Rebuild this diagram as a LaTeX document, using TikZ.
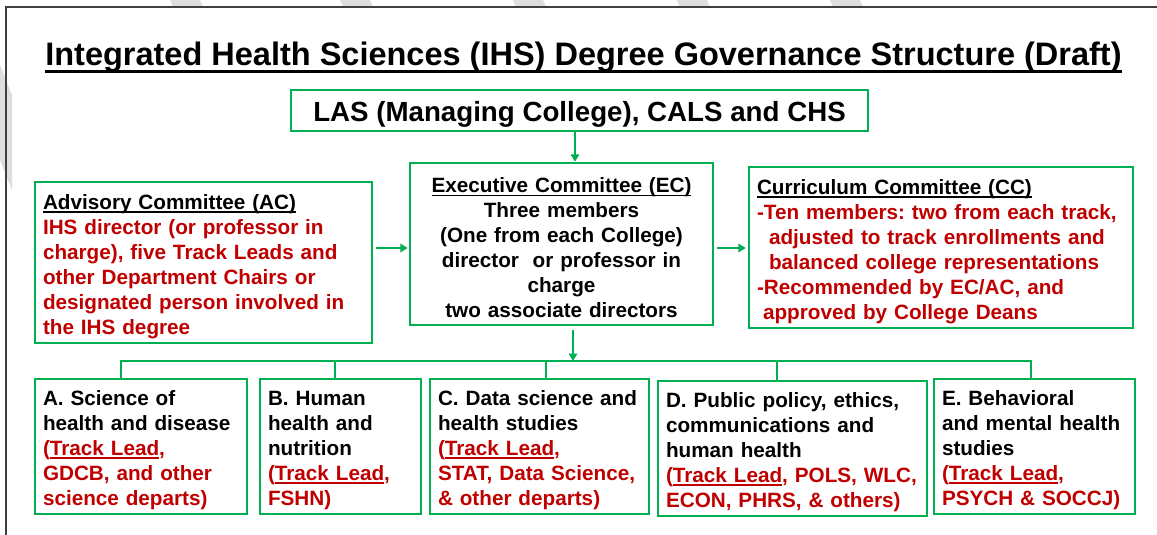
\documentclass[tikz,border=0pt]{standalone}
\usepackage{fontspec}
\setmainfont{Liberation Sans}
\usepackage{tikz}
\usetikzlibrary{arrows.meta,calc}
\definecolor{ihsgreen}{RGB}{0,176,80}
\definecolor{ihsred}{RGB}{192,0,0}
\newsavebox{\ulbox}
\newcommand{\uldepth}{1.6pt}
\newcommand{\ulthick}{1.8pt}
\newcommand{\undl}[1]{\sbox{\ulbox}{#1}\rlap{\rule[\dimexpr-\uldepth-\ulthick\relax]{\wd\ulbox}{\ulthick}}\usebox{\ulbox}}
\newcommand{\bodyfont}{\fontsize{20.7}{25}\selectfont\bfseries\frenchspacing}
\newcommand{\topstrut}{\rule{0pt}{23pt}}
\newcommand{\tracklead}{(\undl{Track Lead},}

\begin{document}
\begin{tikzpicture}[x=1pt,y=-1pt]
        %
        % `box' is used for every committee and track box.
        % `arrow' and `link' are the green connectors.
        % `stripe' is used for the grey bands behind the frame.
        \tikzstyle{box} = [draw=ihsgreen,line width=2.5pt,fill=white,inner xsep=8pt,inner ysep=0pt,align=left,font=\bodyfont]
        \tikzstyle{arrow} = [draw=ihsgreen,line width=2pt,-{Triangle[length=7.5pt,width=8.5pt]}]
        \tikzstyle{link} = [draw=ihsgreen,line width=2pt]
        \tikzstyle{stripe} = [fill=black!13]
        %
        % Background and frame
        \fill[white] (0,0) rectangle (1157,535);
        \useasboundingbox (0,0) rectangle (1157,535);
        \fill[stripe] (170,0) -- (200,0) -- (203,7) -- (173,7) -- cycle;
        \fill[stripe] (340,0) -- (370,0) -- (373,7) -- (343,7) -- cycle;
        \fill[stripe] (513,0) -- (543,0) -- (546,7) -- (516,7) -- cycle;
        \fill[stripe] (677,0) -- (707,0) -- (710,7) -- (680,7) -- cycle;
        \fill[stripe] (830,0) -- (860,0) -- (863,7) -- (833,7) -- cycle;
        \fill[stripe] (0,65) -- (12,95) -- (12,190) -- (0,160) -- cycle;
        \draw[black!75,line width=1.5pt] (6,535) -- (6,7) -- (1157,7);
        %
        % Title
        \node[anchor=base,font=\fontsize{32.5}{39}\selectfont\bfseries] (title) at (583.5,66)
        {\def\uldepth{4pt}\def\ulthick{2.7pt}\undl{Integrated Health Sciences (IHS) Degree Governance Structure (Draft)}};
        %
        % Colleges
        \node[box,align=center,inner xsep=0pt,minimum width=577pt,minimum height=41pt,font=\fontsize{27.7}{33}\selectfont\bfseries] (las) at (579.5,110.5)
        {\rule{0pt}{28.2pt}LAS (Managing College), CALS and CHS};
        %
        % Committees
        \node[box,text width=321pt,minimum height=161pt] (ac) at (203.5,262.5)
        {\topstrut\undl{Advisory Committee (AC)}\\ \color{ihsred}IHS director (or professor in\\ charge), five Track Leads and\\ other Department Chairs or\\ designated person involved in\\ the IHS degree};
        \node[box,align=center,text width=287pt,minimum height=162pt] (ec) at (561.5,244)
        {\topstrut\undl{Executive Committee (EC)}\\ Three members\\ (One from each College)\\ director\ \ or professor in\\ charge\\ two associate directors};
        \node[box,text width=368pt,minimum height=161pt] (cc) at (941,247.5)
        {\topstrut\undl{Curriculum Committee (CC)}\\ \color{ihsred}-Ten members: two from each track,\\ \hspace*{12pt}adjusted to track enrollments and\\ \hspace*{12pt}balanced college representations\\ -Recommended by EC/AC, and\\ \hspace*{6pt}approved by College Deans};
        %
        % Tracks
        \node[box,text width=196pt,minimum height=135pt] (trackA) at (141,446.5)
        {\topstrut A. Science of\\ health and disease\\ \color{ihsred}\tracklead\\ GDCB, and other\\ science departs)};
        \node[box,text width=145pt,minimum height=135pt] (trackB) at (340.5,446.5)
        {\topstrut B. Human\\ health and\\ nutrition\\ \color{ihsred}\tracklead\\ FSHN)};
        \node[box,text width=203pt,minimum height=135pt] (trackC) at (539.5,446.5)
        {\topstrut C. Data science and\\ health studies\\ \color{ihsred}\tracklead\\ \mbox{STAT, Data Science,}\\ \& other departs)};
        \node[box,text width=253pt,minimum height=135pt] (trackD) at (792.5,448.5)
        {\topstrut D. Public policy, ethics,\\ communications and\\ human health\\ \color{ihsred}\mbox{\tracklead{} POLS, WLC,}\\ ECON, PHRS, \& others)};
        \node[box,text width=185pt,minimum height=135pt] (trackE) at (1034.5,446.5)
        {\topstrut E. Behavioral\\ and mental health\\ studies\\ \color{ihsred}\tracklead\\ PSYCH \& SOCCJ)};
        %
        % Arrows between colleges and committees
        \coordinate (midrow) at (0,248);
        \coordinate (bus) at (573,361);
        \draw[arrow] ($(las.south)+(-4.5,0)$) -- ($(las.south |- ec.north)+(-4.5,0)$);
        \draw[arrow] ($(ac.east |- midrow)+(3,0)$) -- ($(ec.west |- midrow)+(-1,0)$);
        \draw[arrow] ($(ec.east |- midrow)+(3,0)$) -- ($(cc.west |- midrow)+(-2,0)$);
        \draw[arrow] ($(ec.south -| bus)+(0,4)$) -- (bus);
        %
        % Bus down to the tracks
        \draw[link] ($(trackA.north)+(-20,0)$) |- (bus) -| ($(trackE.north)+(-3.5,0)$);
        \draw[link] ($(trackB.north)+(-5.5,0)$) -- ($(trackB.north |- bus)+(-5.5,0)$);
        \draw[link] ($(trackC.north)+(6.5,0)$) -- ($(trackC.north |- bus)+(6.5,0)$);
        \draw[link] ($(trackD.north)+(-15.5,0)$) -- ($(trackD.north |- bus)+(-15.5,0)$);
        %
\end{tikzpicture}
\end{document}
